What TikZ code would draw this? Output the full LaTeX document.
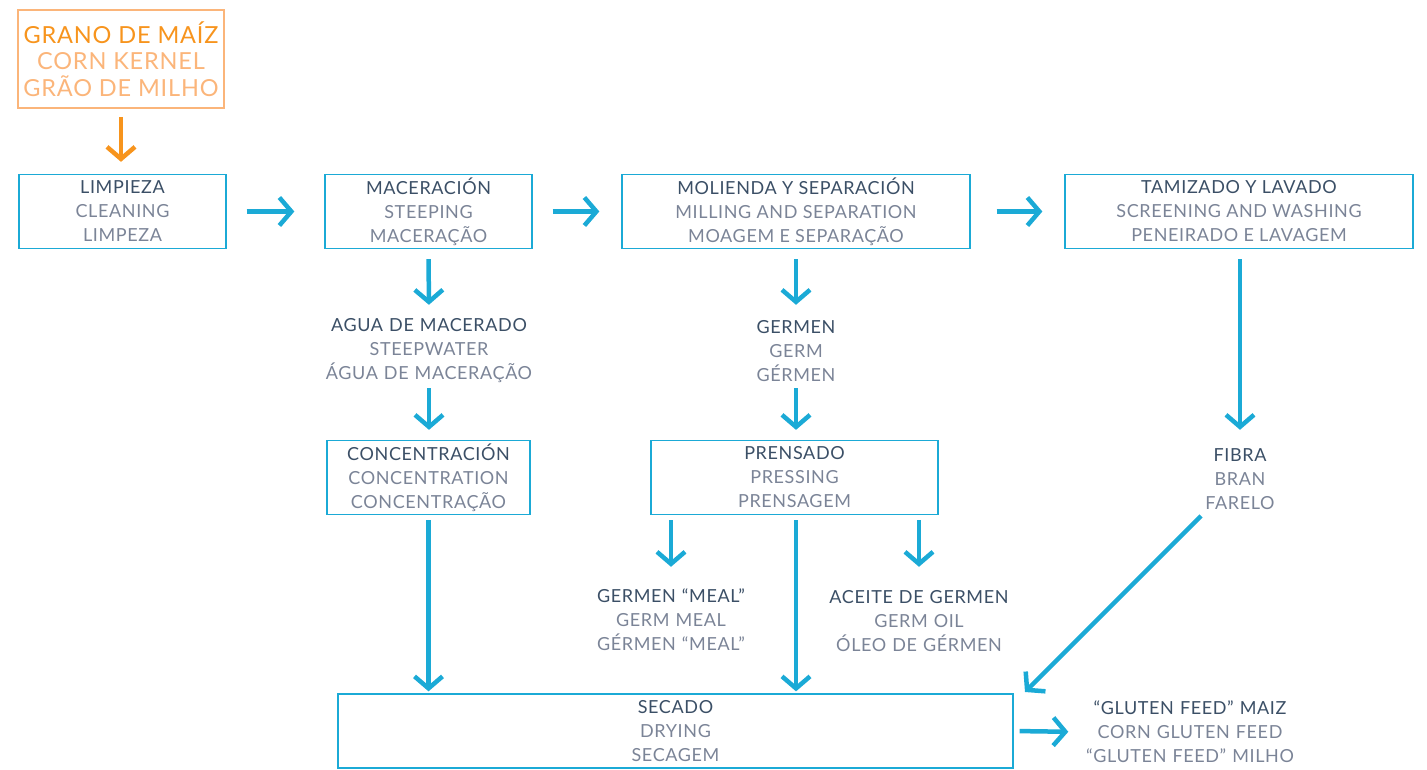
\documentclass[tikz,border=0pt]{standalone}
\usepackage{fontspec}
\setmainfont[LetterSpace=3.5]{Lato}
\usetikzlibrary{arrows.meta}
\definecolor{myblue}{HTML}{1BAAD6}
\definecolor{myorange}{HTML}{F7941D}
\definecolor{lightorange}{HTML}{FBB57A}
\definecolor{darktxt}{HTML}{3B4F66}
\definecolor{graytxt}{HTML}{7B8497}
\newcommand{\tri}[3]{\textcolor{darktxt}{#1}\\\textcolor{graytxt}{#2}\\\textcolor{graytxt}{#3}}
\newcommand{\mainsz}{\fontsize{18}{24}\selectfont}
\tikzset{
  box/.style={draw=myblue, line width=1.3pt, minimum width=#1, minimum height=74, inner sep=0pt, align=center, font=\mainsz},
  lbl/.style={align=center, inner sep=0pt, minimum height=72, text width=270, font=\mainsz},
  arr/.style={draw=myblue, line width=4.5pt, -{Straight Barb[length=12pt, width=28pt]}},
  oarr/.style={draw=myorange, line width=4.5pt, -{Straight Barb[length=12pt, width=28pt]}},
}
\begin{document}
\begin{tikzpicture}[x=1pt,y=-1pt]
\useasboundingbox (0,0) rectangle (1427,770);
% source box
\node[draw=lightorange, line width=1.6pt, minimum width=206, minimum height=98, inner sep=0pt, align=center,
      font=\fontsize{23.5}{26.5}\selectfont] (corn) at (121,59)
  {\textcolor{myorange}{GRANO DE MAÍZ}\\\textcolor{lightorange}{CORN KERNEL}\\\textcolor{lightorange}{GRÃO DE MILHO}};
% process boxes
\node[box=207] (limp) at (122.5,211.5) {\tri{LIMPIEZA}{CLEANING}{LIMPEZA}};
\node[box=207] (mac) at (428.5,211.5) {\tri{MACERACIÓN}{STEEPING}{MACERAÇÃO}};
\node[box=348] (mol) at (796,211.5) {\tri{MOLIENDA Y SEPARACIÓN}{MILLING AND SEPARATION}{MOAGEM E SEPARAÇÃO}};
\node[box=348] (tam) at (1239,211.5) {\tri{TAMIZADO Y LAVADO}{SCREENING AND WASHING}{PENEIRADO E LAVAGEM}};
\node[box=203] (conc) at (428.5,477.5) {\tri{CONCENTRACIÓN}{CONCENTRATION}{CONCENTRAÇÃO}};
\node[box=287] (pren) at (794.5,477.5) {\tri{PRENSADO}{PRESSING}{PRENSAGEM}};
\node[box=675] (sec) at (675.5,731) {\tri{SECADO}{DRYING}{SECAGEM}};
% labels
\node[lbl] (agua) at (429,351) {\tri{AGUA DE MACERADO}{STEEPWATER}{ÁGUA DE MACERAÇÃO}};
\node[lbl] (germ) at (796,351) {\tri{GERMEN}{GERM}{GÉRMEN}};
\node[lbl] (fib) at (1240,479) {\tri{FIBRA}{BRAN}{FARELO}};
\node[lbl] (meal) at (671,620) {\tri{GERMEN “MEAL”}{GERM MEAL}{GÉRMEN “MEAL”}};
\node[lbl] (oil) at (919,621) {\tri{ACEITE DE GERMEN}{GERM OIL}{ÓLEO DE GÉRMEN}};
\node[lbl, text width=215] (glu) at (1190,732) {\tri{“GLUTEN FEED” MAIZ}{CORN GLUTEN FEED}{“GLUTEN FEED” MILHO}};
\coordinate (d1) at (1201,516);
\coordinate (d2) at (1025,692);
% arrows
\draw[oarr, shorten <=8pt, shorten >=12pt] (corn.south) -- (corn.south |- limp.north);
\draw[arr, shorten <=20pt, shorten >=30pt] (limp.east) -- (mac.west);
\draw[arr, shorten <=20pt, shorten >=22pt] (mac.east) -- (mol.west);
\draw[arr, shorten <=26pt, shorten >=22pt] (mol.east) -- (tam.west);
\draw[arr, shorten <=10pt, shorten >=10pt] (mac.south) -- (agua.north);
\draw[arr, shorten <=1pt, shorten >=10pt] (agua.south) -- (agua.south |- conc.north);
\draw[arr, shorten <=10pt, shorten >=10pt] (mol.south) -- (germ.north);
\draw[arr, shorten <=1pt, shorten >=10pt] (germ.south) -- (germ.south |- pren.north);
\draw[arr, shorten <=10pt, shorten >=13pt] (tam.south -| fib.north) -- (fib.north);
\draw[arr, shorten <=5pt, shorten >=2pt] (conc.south) -- (conc.south |- sec.north);
\draw[arr, shorten <=5pt, shorten >=2pt] (germ.south |- pren.south) -- (germ.south |- sec.north);
\draw[arr, shorten <=5pt, shorten >=17pt] (meal.north |- pren.south) -- (meal.north);
\draw[arr, shorten <=5pt, shorten >=18pt] (oil.north |- pren.south) -- (oil.north);
\draw[arr] (d1) -- (d2);
\draw[arr, shorten <=6pt, shorten >=14pt] (sec.east) -- (glu.west);
\end{tikzpicture}
\end{document}
